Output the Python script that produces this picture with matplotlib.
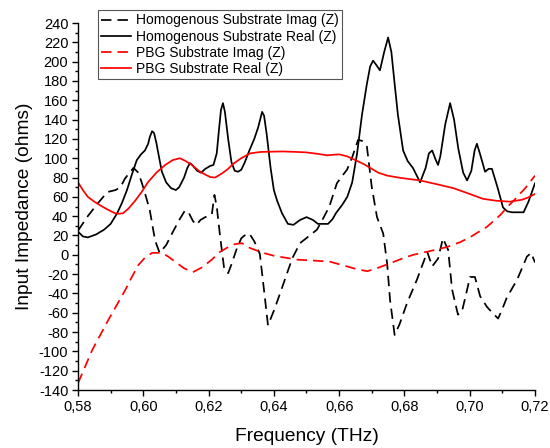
import matplotlib
matplotlib.use("Agg")
import matplotlib.pyplot as plt
from matplotlib.ticker import MultipleLocator, FuncFormatter

plt.rcParams['font.family'] = ['Liberation Sans', 'DejaVu Sans']

# Homogenous substrate, real part of Z
homo_real_f = [0.580, 0.5815, 0.583, 0.5855, 0.588, 0.590, 0.592, 0.5935, 0.595, 0.5965,
               0.598, 0.5993, 0.6005, 0.6015, 0.602, 0.6027, 0.6033, 0.604, 0.605, 0.6057,
               0.607, 0.6085, 0.610, 0.611, 0.6125, 0.6135, 0.6143, 0.615, 0.6165, 0.6177,
               0.619, 0.6205, 0.6215, 0.6225, 0.6232, 0.6238, 0.6244, 0.625, 0.626, 0.627,
               0.628, 0.629, 0.630, 0.631, 0.6325, 0.634, 0.6352, 0.6364, 0.637, 0.6378,
               0.639, 0.640, 0.641, 0.6425, 0.6443, 0.646, 0.648, 0.650, 0.652, 0.6535,
               0.655, 0.6566, 0.658, 0.659, 0.661, 0.6625, 0.664, 0.6655, 0.667, 0.6685,
               0.6695, 0.6704, 0.6715, 0.6725, 0.6738, 0.675, 0.676, 0.677, 0.678, 0.6796,
               0.681, 0.6826, 0.6848, 0.6865, 0.6875, 0.6885, 0.6895, 0.6903, 0.691, 0.6925,
               0.694, 0.6952, 0.6965, 0.698, 0.6992, 0.7005, 0.7015, 0.7022, 0.7032, 0.7047,
               0.7058, 0.7068, 0.7085, 0.7102, 0.7115, 0.713, 0.7165, 0.718, 0.720]
homo_real_z = [24, 19, 18, 21, 26, 32, 43, 54, 67, 83,
               98, 104, 108, 115, 122, 128, 126, 116, 98, 86,
               75, 69, 67, 70, 80, 90, 95, 93, 87, 85,
               89, 92, 93, 105, 130, 150, 157, 148, 120, 96,
               87, 86, 88, 95, 108, 120, 132, 148, 144, 125,
               90, 67, 56, 43, 32, 31, 36, 39, 36, 32,
               32, 32, 37, 43, 52, 60, 75, 105, 145, 177,
               195, 201, 196, 191, 210, 225, 210, 177, 145, 108,
               97, 90, 75, 90, 105, 108, 99, 93, 102, 135,
               157, 140, 110, 85, 77, 87, 108, 115, 104, 86,
               89, 89, 70, 49, 45, 44, 44, 55, 74]

# Homogenous substrate, imaginary part of Z
homo_imag_f = [0.580, 0.583, 0.586, 0.589, 0.5915, 0.593, 0.5944, 0.597, 0.5985, 0.5996,
               0.601, 0.602, 0.6036, 0.605, 0.607, 0.6088, 0.611, 0.6128, 0.614, 0.6152,
               0.6163, 0.6175, 0.619, 0.621, 0.6218, 0.6225, 0.6235, 0.6248, 0.626, 0.627,
               0.6285, 0.630, 0.631, 0.6325, 0.634, 0.6357, 0.637, 0.6382, 0.640, 0.6419,
               0.6456, 0.648, 0.651, 0.6532, 0.655, 0.657, 0.6593, 0.661, 0.6624, 0.664,
               0.6658, 0.667, 0.6685, 0.670, 0.6716, 0.6735, 0.6747, 0.6756, 0.677, 0.6785,
               0.6808, 0.6838, 0.687, 0.6885, 0.6903, 0.6918, 0.6934, 0.6946, 0.6964, 0.6976,
               0.6988, 0.7001, 0.7016, 0.7032, 0.7053, 0.7072, 0.7087, 0.710, 0.7114, 0.7145,
               0.7175, 0.7188, 0.720]
homo_imag_z = [25, 40, 53, 65, 67, 70, 79, 90, 85, 74,
               58, 46, 15, 2, 10, 22, 36, 46, 43, 35,
               31, 36, 39, 42, 62, 50, 20, -15, -19, -10,
               5, 17, 20, 22, 14, 1, -37, -73, -58, -40,
               -4, 12, 20, 26, 37, 50, 74, 82, 88, 101,
               119, 118, 112, 70, 39, 22, -9, -47, -83, -72,
               -50, -26, 3, -12, -4, 17, 5, -36, -62, -59,
               -42, -23, -23, -43, -54, -61, -66, -56, -44, -26,
               -2, 2, -8]

# PBG substrate, real part of Z
pbg_real_f = [0.580, 0.5815, 0.583, 0.585, 0.5874, 0.589, 0.5913, 0.5925, 0.5938, 0.5955,
              0.5975, 0.5995, 0.6014, 0.604, 0.6067, 0.609, 0.6112, 0.613, 0.6149, 0.617,
              0.619, 0.6205, 0.622, 0.624, 0.626, 0.6275, 0.630, 0.6327, 0.636, 0.640,
              0.6428, 0.647, 0.650, 0.6535, 0.6563, 0.658, 0.660, 0.6624, 0.665, 0.6675,
              0.6695, 0.672, 0.6747, 0.679, 0.6848, 0.690, 0.695, 0.700, 0.704, 0.708,
              0.7123, 0.716, 0.718, 0.720]
pbg_real_z = [75, 67, 60, 55, 50, 47, 43, 42.5, 43, 48,
              56, 65, 75, 85, 93, 98, 100, 97, 93, 87,
              83, 80.5, 80, 84, 89, 94, 100, 105, 106.5, 106.8,
              107, 106.5, 106, 104.5, 103, 103.5, 104, 102, 98, 94,
              90, 85, 82, 79.5, 77, 73, 69, 63, 58, 56,
              55, 57, 59.5, 63]

# PBG substrate, imaginary part of Z
pbg_imag_f = [0.580, 0.5843, 0.5892, 0.5944, 0.5965, 0.5984, 0.6005, 0.6027, 0.6057, 0.6077,
              0.6097, 0.6125, 0.6152, 0.618, 0.621, 0.6235, 0.626, 0.628, 0.6302, 0.6327,
              0.6367, 0.640, 0.647, 0.652, 0.657, 0.6624, 0.6655, 0.6686, 0.6715, 0.6747,
              0.680, 0.6827, 0.688, 0.693, 0.697, 0.700, 0.7053, 0.7093, 0.7117, 0.714,
              0.717, 0.720]
pbg_imag_z = [-133, -99, -68, -37, -23, -11, -3, 2, 2, -2,
              -7, -14, -18, -13, -5, 3, 8, 11, 12, 7,
              2, -1, -5, -6, -7, -12, -15, -17, -14, -10,
              -3, 0, 4, 8, 13, 18, 29, 41, 50, 58,
              69, 82]

fig = plt.figure(figsize=(5.5, 4.48), dpi=100)
ax = fig.add_axes([78/550, 1 - 390/448, (535 - 78)/550, (390 - 23)/448])

dash = (6, 3.5)
lw = 1.25
ax.plot(homo_imag_f, homo_imag_z, color='black', lw=lw, dashes=dash,
        label='Homogenous Substrate Imag (Z)')
ax.plot(homo_real_f, homo_real_z, color='black', lw=lw,
        label='Homogenous Substrate Real (Z)')
ax.plot(pbg_imag_f, pbg_imag_z, color='#ff0000', lw=lw, dashes=dash,
        label='PBG Substrate Imag (Z)')
ax.plot(pbg_real_f, pbg_real_z, color='#ff0000', lw=lw,
        label='PBG Substrate Real (Z)')

ax.set_xlim(0.58, 0.72)
ax.set_ylim(-140, 240)
ax.xaxis.set_major_locator(MultipleLocator(0.02))
ax.xaxis.set_minor_locator(MultipleLocator(0.01))
ax.yaxis.set_major_locator(MultipleLocator(20))
ax.yaxis.set_minor_locator(MultipleLocator(10))
ax.xaxis.set_major_formatter(FuncFormatter(lambda v, p: f"{v:.2f}".replace('.', ',')))
ax.yaxis.set_major_formatter(FuncFormatter(lambda v, p: f"{v:.0f}"))

for side in ('top', 'right'):
    ax.spines[side].set_visible(False)
for side in ('left', 'bottom'):
    ax.spines[side].set_linewidth(1.0)
ax.tick_params(which='major', direction='out', length=4, width=1.0,
               labelsize=10.5, pad=3, colors='black')
ax.tick_params(which='minor', direction='out', length=2.5, width=1.0)

ax.set_xlabel('Frequency (THz)', fontsize=13.8, labelpad=10)
ax.set_ylabel('Input Impedance (ohms)', fontsize=13.8, labelpad=4)

leg = fig.legend(loc='upper left', bbox_to_anchor=(98/550, 1 - 10/448),
                 fontsize=10, frameon=True, fancybox=False, framealpha=1,
                 edgecolor='#555555', handlelength=2.15, handletextpad=0.35,
                 labelspacing=0.15, borderpad=0.25, borderaxespad=0)
leg.get_frame().set_linewidth(0.8)

fig.savefig('out.png', dpi=100)
